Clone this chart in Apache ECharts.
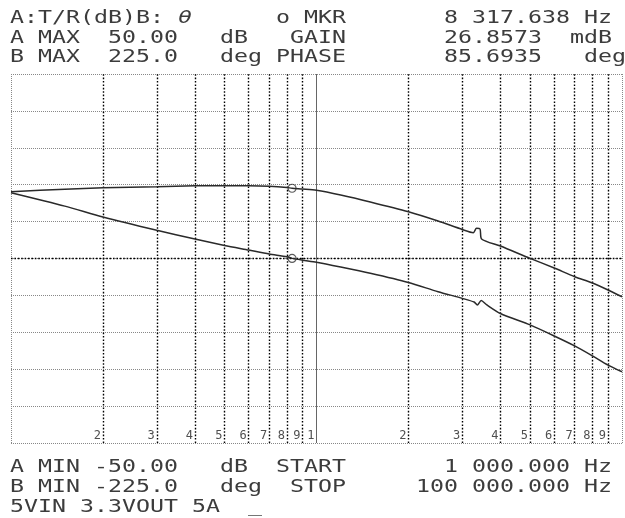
<!DOCTYPE html>
<html>
<head>
<meta charset="utf-8">
<script src="https://cdn.jsdelivr.net/npm/echarts@6/dist/echarts.min.js"></script>
<style>
html,body{margin:0;padding:0;background:#fff;}
#chart{width:625px;height:518px;}
</style>
</head>
<body>
<div id="chart"></div>
<script>
// ---- data ----
const gainFreq = [1000,1500,2000,3000,4000,5000,6000,7000,8000,8317.638,9000,10000,12000,15000,20000,25000,30000,32800,33600,34600,36000,40000,50000,60000,70000,80000,90000,100000];
const gainDb   = [17.83,14.2,11.25,7.64,5.26,3.52,2.28,1.22,0.49,0.03,-0.45,-1.0,-2.3,-4.0,-6.5,-9.0,-10.8,-11.8,-12.6,-11.4,-12.5,-14.9,-18.0,-21.0,-23.7,-26.4,-28.9,-30.7];
const phaseFreq = [1000,1500,2000,3000,4000,5000,6000,7000,8000,8317.638,9000,10000,12000,15000,20000,25000,30000,32600,33400,34300,34700,40000,50000,60000,70000,80000,90000,100000];
const phaseDeg  = [81.5,84.5,86.3,87.6,88.6,88.8,88.7,88.0,86.6,85.69,84.8,83.3,77.5,69.0,57.0,45.7,35.4,31.5,36.8,36.0,23.8,15.2,0.2,-11.6,-22.2,-29.9,-38.4,-46.6];
const markerFreq = 8317.638;
const markerGain = 0.0268573;
const markerPhase = 85.6935;
const minorFreqs = [2000,3000,4000,5000,6000,7000,8000,9000,20000,30000,40000,50000,60000,70000,80000,90000];
const decadeFreqs = [10000];
const borderFreqs = [1000,100000];
const tickFreqs  = [2000,3000,4000,5000,6000,7000,8000,9000,10000,20000,30000,40000,50000,60000,70000,80000,90000];
const tickLabels = ['2','3','4','5','6','7','8','9','1','2','3','4','5','6','7','8','9'];
const gainRange = [-50, 50, 10];
const phaseRange = [-225, 225, 45];
// header / footer text: [column, text]
const headerLine1 = [[0,'A:T/R(dB)B:'],[19,'o'],[21,'MKR'],[31,'8 317.638 Hz']];
const headerTheta = [12,'θ'];
const headerLine2 = [[0,'A'],[2,'MAX'],[7,'50.00'],[15,'dB'],[20,'GAIN'],[31,'26.8573'],[40,'mdB']];
const headerLine3 = [[0,'B'],[2,'MAX'],[7,'225.0'],[15,'deg'],[19,'PHASE'],[31,'85.6935'],[41,'deg']];
const footerLine1 = [[0,'A'],[2,'MIN'],[6,'-50.00'],[15,'dB'],[19,'START'],[31,'1 000.000 Hz']];
const footerLine2 = [[0,'B'],[2,'MIN'],[6,'-225.0'],[15,'deg'],[20,'STOP'],[29,'100 000.000 Hz']];
const footerLine3 = [[0,'5VIN'],[5,'3.3VOUT'],[13,'5A'],[17,'_']];

// ---- layout / style ----
const TXT = '#3c3c3c';
const FONT = '"DejaVu Sans Mono", "Liberation Mono", monospace';
const COL0 = 10, PITCH = 14, FS = 18, SX = PITCH / (0.602 * FS);

function lineGraphics(segs, cy, italic) {
  return segs.map(([c, t]) => ({
    type: 'text', x: COL0 + PITCH * c, y: cy, scaleX: SX, silent: true,
    style: { text: t, fill: TXT, font: (italic ? 'italic ' : '') + FS + 'px ' + FONT, verticalAlign: 'middle', align: 'left' }
  }));
}

const graphics = [].concat(
  lineGraphics(headerLine1, 18.5),
  lineGraphics([headerTheta], 18.5, true),
  lineGraphics(headerLine2, 38),
  lineGraphics(headerLine3, 57),
  lineGraphics(footerLine1, 467),
  lineGraphics(footerLine2, 487),
  lineGraphics(footerLine3, 507)
);

const darkDot = { color: '#000', width: 1.4, type: [1.6, 1.8] };
const grayDot = { color: '#888', width: 1, type: [1, 1] };
const vLines = []
  .concat(minorFreqs.map(f => ({ xAxis: f, lineStyle: darkDot })))
  .concat(decadeFreqs.map(f => ({ xAxis: f, lineStyle: { color: '#666', width: 1, type: 'solid' } })))
  .concat(borderFreqs.map(f => ({ xAxis: f, lineStyle: grayDot })))
  .concat([{ yAxis: 0, lineStyle: darkDot }]);

const chart = echarts.init(document.getElementById('chart'), null, { renderer: 'canvas' });
chart.setOption({
  animation: false,
  backgroundColor: '#fff',
  graphic: graphics,
  grid: { left: 11, right: 3, top: 74, height: 369, show: false },
  xAxis: {
    type: 'log', logBase: 10, min: 1000, max: 100000,
    axisLine: { show: false }, axisTick: { show: false }, axisLabel: { show: false },
    splitLine: { show: false }, minorSplitLine: { show: false }
  },
  yAxis: [
    { type: 'value', min: gainRange[0], max: gainRange[1], interval: gainRange[2],
      axisLine: { show: false }, axisTick: { show: false }, axisLabel: { show: false },
      splitLine: { show: true, lineStyle: grayDot } },
    { type: 'value', min: phaseRange[0], max: phaseRange[1], interval: phaseRange[2],
      axisLine: { show: false }, axisTick: { show: false }, axisLabel: { show: false },
      splitLine: { show: false } }
  ],
  series: [
    {
      name: 'grid', type: 'line', data: [], silent: true,
      markLine: { silent: true, symbol: ['none', 'none'], label: { show: false }, data: vLines }
    },
    {
      name: 'GAIN', type: 'line', yAxisIndex: 0, showSymbol: false, smooth: 0.25,
      lineStyle: { color: '#2a2a2a', width: 1.5 }, z: 5,
      data: gainFreq.map((f, i) => [f, gainDb[i]])
    },
    {
      name: 'PHASE', type: 'line', yAxisIndex: 1, showSymbol: false, smooth: 0.25,
      lineStyle: { color: '#2a2a2a', width: 1.5 }, z: 5,
      data: phaseFreq.map((f, i) => [f, phaseDeg[i]])
    },
    {
      name: 'mkrA', type: 'scatter', yAxisIndex: 0, symbol: 'circle', symbolSize: 8, z: 6,
      itemStyle: { color: 'rgba(0,0,0,0)', borderColor: '#333', borderWidth: 1.2 },
      data: [[markerFreq, markerGain]]
    },
    {
      name: 'mkrB', type: 'scatter', yAxisIndex: 1, symbol: 'circle', symbolSize: 8, z: 6,
      itemStyle: { color: 'rgba(0,0,0,0)', borderColor: '#333', borderWidth: 1.2 },
      data: [[markerFreq, markerPhase]]
    },
    {
      name: 'ticks', type: 'scatter', yAxisIndex: 0, symbolSize: 0, silent: true, clip: false, z: 7,
      data: tickFreqs.map((f, i) => ({ value: [f, gainRange[0]], name: tickLabels[i] })),
      label: {
        show: true, position: 'left', distance: 2, offset: [0, -7],
        formatter: p => p.name, color: '#222', fontSize: 12, fontFamily: FONT
      }
    }
  ]
});
</script>
</body>
</html>
